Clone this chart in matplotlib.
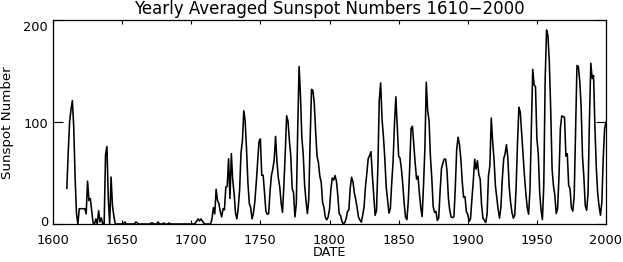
import numpy as np
import matplotlib
matplotlib.use("Agg")
import matplotlib.pyplot as plt
import matplotlib.transforms as mtransforms

# ---- data -------------------------------------------------------------
start_year = 1610
end_year = 2000

# 1610-1733
early_values = [
    35, 70, 100, 112, 121, 95, 45, 10, 0, 15,          # 1610
    15, 15, 15, 15, 10, 42, 23, 25, 13, 1,             # 1620
    0, 5, 0, 13, 2, 6, 0, 0, 68, 76,                   # 1630
    25, 0, 46, 18, 8, 0, 0, 0, 0, 0,                   # 1640
    0, 0, 2, 0, 0, 0, 0, 0, 0, 0,                      # 1650
    2, 1, 0, 0, 0, 0, 0, 0, 0, 0,                      # 1660
    0, 1, 1, 0, 0, 0, 2, 0, 0, 0,                      # 1670
    1, 0, 0, 0, 1, 0, 0, 0, 0, 0,                      # 1680
    0, 0, 0, 0, 0, 0, 0, 0, 0, 0,                      # 1690
    0, 0, 0, 1, 3, 5, 3, 5, 3, 1,                      # 1700
    0, 0, 0, 0, 0, 5, 16, 10, 34, 23,                  # 1710
    20, 12, 7, 15, 14, 36, 37, 64, 25, 69,             # 1720
    43, 30, 11, 5,                                     # 1730-1733
]

# 1734-2000
late_values = [
    16, 34, 70, 81, 111, 101,                                              # 1734
    73, 40, 20, 16, 5, 11, 22, 40, 60, 80.9,                               # 1740
    83.4, 47.7, 47.8, 30.7, 12.2, 9.6, 10.2, 32.4, 47.6, 54.0,             # 1750
    62.9, 85.9, 61.2, 45.1, 36.4, 20.9, 11.4, 37.8, 69.8, 106.1,           # 1760
    100.8, 81.6, 66.5, 34.8, 30.6, 7.0, 19.8, 92.5, 154.4, 125.9,          # 1770
    84.8, 68.1, 38.5, 22.8, 10.2, 24.1, 82.9, 132.0, 130.9, 118.1,         # 1780
    89.9, 66.6, 60.0, 46.9, 41.0, 21.3, 16.0, 6.4, 4.1, 6.8,               # 1790
    14.5, 34.0, 45.0, 43.1, 47.5, 42.2, 28.1, 10.1, 8.1, 2.5,              # 1800
    0.0, 1.4, 5.0, 12.2, 13.9, 35.4, 45.8, 41.1, 30.1, 23.9,               # 1810
    15.6, 6.6, 4.0, 1.8, 8.5, 16.6, 36.3, 49.6, 64.2, 67.0,                # 1820
    70.9, 47.8, 27.5, 8.5, 13.2, 56.9, 121.5, 138.3, 103.2, 85.7,          # 1830
    64.6, 36.7, 24.2, 10.7, 15.0, 40.1, 61.5, 98.5, 124.7, 96.3,           # 1840
    66.6, 64.5, 54.1, 39.0, 20.6, 6.7, 4.3, 22.7, 54.8, 93.8,              # 1850
    95.8, 77.2, 59.1, 44.0, 47.0, 30.5, 16.3, 7.3, 37.6, 74.0,             # 1860
    139.0, 111.2, 101.6, 66.2, 44.7, 17.0, 11.3, 12.4, 3.4, 6.0,           # 1870
    32.3, 54.3, 59.7, 63.7, 63.5, 52.2, 25.4, 13.1, 6.8, 6.3,              # 1880
    7.1, 35.6, 73.0, 85.1, 78.0, 64.0, 41.8, 26.2, 26.7, 12.1,             # 1890
    9.5, 2.7, 5.0, 24.4, 42.0, 63.5, 53.8, 62.0, 48.5, 43.9,               # 1900
    18.6, 5.7, 3.6, 1.4, 9.6, 47.4, 57.1, 103.9, 80.6, 63.6,               # 1910
    37.6, 26.1, 14.2, 5.8, 16.7, 44.3, 63.9, 69.0, 77.8, 64.9,             # 1920
    35.7, 21.2, 11.1, 5.7, 8.7, 36.1, 79.7, 114.4, 109.6, 88.8,            # 1930
    67.8, 47.5, 30.6, 16.3, 9.6, 33.2, 92.6, 151.6, 136.3, 134.7,          # 1940
    83.9, 69.4, 31.5, 13.9, 4.4, 38.0, 141.7, 190.2, 184.8, 159.0,         # 1950
    112.3, 53.9, 37.6, 27.9, 10.2, 15.1, 47.0, 93.8, 105.9, 105.5,         # 1960
    104.5, 66.6, 68.9, 38.0, 34.5, 15.5, 12.6, 27.5, 92.5, 155.4,          # 1970
    154.6, 140.4, 115.9, 66.6, 45.9, 17.9, 13.4, 29.4, 100.2, 157.6,       # 1980
    142.6, 145.7, 94.3, 54.6, 29.9, 17.5, 8.6, 21.5, 64.3, 93.3,           # 1990
    100,                                                                    # 2000
]

x_ticks = [1600, 1650, 1700, 1750, 1800, 1850, 1900, 1950, 2000]
y_ticks = [0, 100, 200]

title = "Yearly Averaged Sunspot Numbers 1610\u22122000"
x_label = "DATE"
y_label = "Sunspot Number"

years = np.arange(start_year, end_year + 1)
values = np.array(early_values + late_values, dtype=float)
assert len(values) == len(years), (len(values), len(years))

# ---- figure -----------------------------------------------------------
W, H = 623, 262
fig = plt.figure(figsize=(W / 100, H / 100), dpi=100)
fig.patch.set_facecolor("white")
plt.rcParams["font.family"] = ["DejaVu Sans"]

L, R, T, B = 53, 606, 20, 224
ax = fig.add_axes([L / W, 1 - B / H, (R - L) / W, (B - T) / H])
ax.plot(years, values, color="black", lw=1.15)
ax.set_xlim(1600, 2000)
ax.set_ylim(0, 200)
ax.set_xticks(x_ticks)
ax.set_yticks(y_ticks)
ax.set_xticklabels([str(t) for t in x_ticks])
ax.set_yticklabels([str(t) for t in y_ticks])

for s in ax.spines.values():
    s.set_linewidth(0.9)
    s.set_color("black")

ax.tick_params(axis="x", direction="in", length=2.9, width=0.8, top=True,
               labelsize=9.3, pad=7.0, colors="black")
ax.tick_params(axis="y", direction="in", length=7.2, width=0.8, right=True,
               labelsize=9.3, pad=3.5, colors="black")

# small vertical nudges of y tick labels (pixels, + is up)
nudges = {0: 3, 100: -1, 200: -6}
for val, lab in zip(y_ticks, ax.get_yticklabels()):
    off = mtransforms.ScaledTranslation(0, nudges[val] / 100, fig.dpi_scale_trans)
    lab.set_transform(lab.get_transform() + off)

fig.text(329.5 / W, 1 - 9 / H, title, ha="center", va="center", fontsize=12)
fig.text(330 / W, 1 - 253 / H, x_label, ha="center", va="center", fontsize=9.3)
fig.text(8 / W, 1 - 122.5 / H, y_label, ha="center", va="center",
         rotation=90, fontsize=9.6)

fig.savefig("out.png", dpi=100, facecolor="white")
